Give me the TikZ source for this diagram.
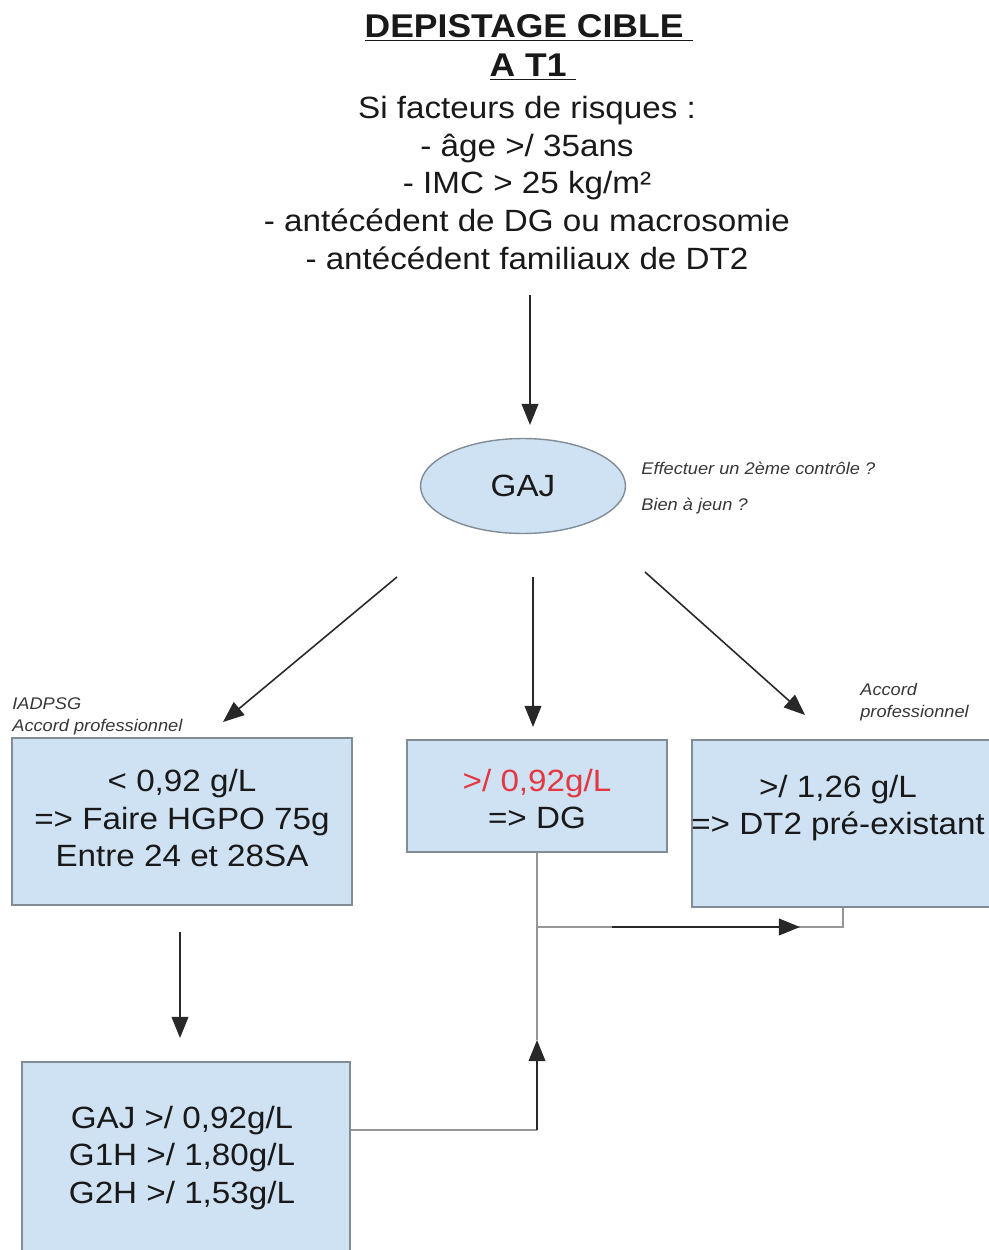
\documentclass[tikz,border=0pt]{standalone}
\usepackage{fontspec}
\setmainfont{Liberation Sans}[FakeStretch=1.08]
\usetikzlibrary{arrows.meta,shapes.geometric}
\definecolor{boxfill}{RGB}{207,226,243}
\definecolor{boxline}{RGB}{128,140,150}
\definecolor{txtc}{RGB}{25,25,25}
\definecolor{notec}{RGB}{55,55,55}
\definecolor{redc}{RGB}{228,55,65}
\definecolor{arrc}{RGB}{40,40,40}
\definecolor{linkc}{RGB}{150,150,150}
\begin{document}
\begin{tikzpicture}[x=0.02cm,y=-0.02cm,
  body/.style={font=\fontsize{17.5}{21.5}\selectfont, text=txtc, align=center, inner sep=0pt},
  ttl/.style={font=\bfseries\fontsize{18.7}{23}\selectfont, text=txtc, inner sep=0pt},
  note/.style={font=\itshape\fontsize{9.6}{12.8}\selectfont, text=notec, align=left, inner sep=0pt, anchor=west},
  box/.style={draw=boxline, fill=boxfill, line width=0.8pt, inner sep=0pt},
  arr/.style={draw=arrc, line width=0.9pt, -{Triangle[length=12pt,width=9.5pt]}},
  link/.style={draw=linkc, line width=0.8pt}]
\useasboundingbox (0,0) rectangle (989,1250);
\fill[white] (0,0) rectangle (989,1250);

% title and risk factors
\node[ttl] (t1) at (529,28) {\underline{DEPISTAGE CIBLE~}};
\node[ttl] (t2) at (533,67) {\underline{A T1~}};
\node[body] (risks) at (527,183) {Si facteurs de risques :\\- âge >/ 35ans\\- IMC > 25 kg/m²\\- antécédent de DG ou macrosomie\\- antécédent familiaux de DT2};

% GAJ ellipse and note
\node[ellipse, draw=boxline, fill=boxfill, line width=0.8pt, minimum width=4.1cm, minimum height=1.9cm, inner sep=0pt,
      font=\fontsize{17.5}{21.5}\selectfont, text=txtc] (gaj) at (523,486) {GAJ};
\node[note, font=\itshape\fontsize{9.6}{20.4}\selectfont] (ctrl) at (641,488) {Effectuer un 2ème contrôle ?\\Bien à jeun ?};

% boxes
\node[box, minimum width=6.8cm, minimum height=3.34cm] (boxL) at (182,821.5) {};
\node[box, minimum width=5.2cm, minimum height=2.24cm] (boxM) at (537,796) {};
\node[box, minimum width=6.04cm, minimum height=3.34cm] (boxR) at (843,823.5) {};
\node[box, minimum width=6.56cm, minimum height=3.96cm] (boxB) at (186,1161) {};

\node[body] (txtL) at (182,818) {< 0,92 g/L\\=> Faire HGPO 75g\\Entre 24 et 28SA};
\node[body] (txtM) at (537,799) {\textcolor{redc}{>/ 0,92g/L}\\=> DG};
\node[body] (txtR) at (838,808) {>/ 1,26 g/L\\=> DT2 pré-existant};
\node[body] (txtB) at (182,1158) {GAJ >/ 0,92g/L\\G1H >/ 1,80g/L\\G2H >/ 1,53g/L};

% labels above boxes
\node[note] (lblL) at (12,716.5) {IADPSG\\Accord professionnel};
\node[note] (lblR) at (860,702) {Accord\\professionnel};

% arrows
\coordinate (a0s) at (530,295); \coordinate (a0e) at (530,425);
\draw[arr] (a0s) -- (a0e);
\coordinate (dLs) at (397,577); \coordinate (dLe) at (223,722);
\coordinate (dMs) at (533,577); \coordinate (dMe) at (533,727);
\coordinate (dRs) at (645,572); \coordinate (dRe) at (805,715);
\draw[arr] (dLs) -- (dLe);
\draw[arr] (dMs) -- (dMe);
\draw[arr] (dRs) -- (dRe);
\coordinate (dDs) at (180,932); \coordinate (dDe) at (180,1038);
\draw[arr] (dDs) -- (dDe);

% links
\coordinate (jH) at (537,927);
\coordinate (jUp) at (537,1040);
\coordinate (jB) at (537,1130);
\draw[link] (boxM.south) -- (jUp);
\draw[link] (jH) -- (jH -| boxR.south) -- (boxR.south);
\draw[link] (boxB.east |- jB) -- (jB);
\draw[arr] (jB) -- (jUp);
\coordinate (hS) at (612,927); \coordinate (hE) at (800,927);
\draw[arr] (hS) -- (hE);
\end{tikzpicture}
\end{document}
